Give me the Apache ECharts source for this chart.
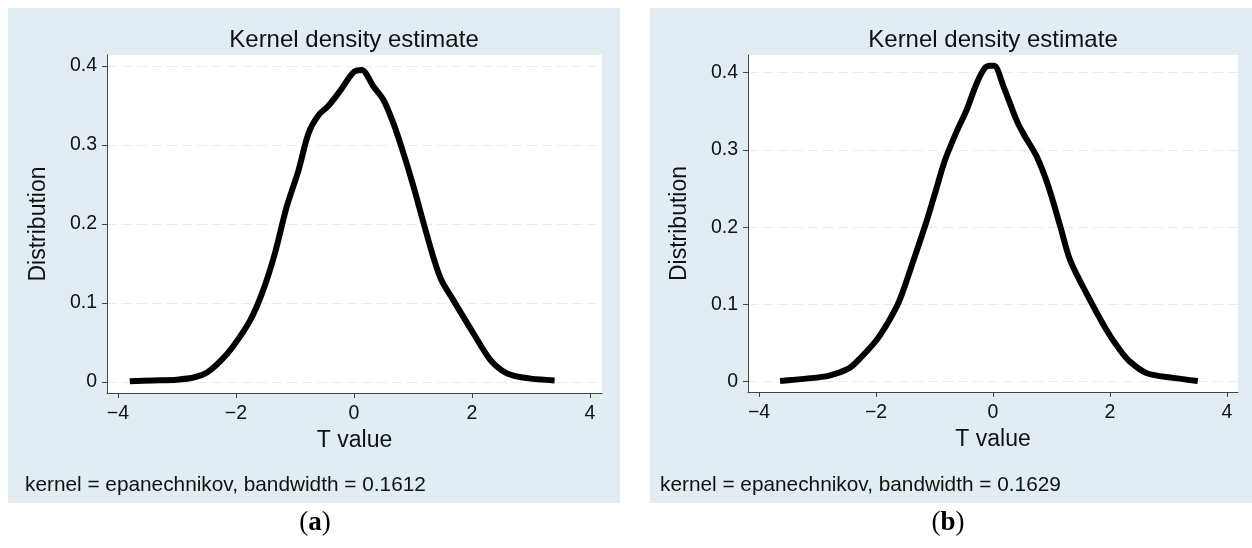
<!DOCTYPE html>
<html>
<head>
<meta charset="utf-8">
<title>Kernel density estimate</title>
<script src="https://cdn.jsdelivr.net/npm/echarts@6.0.0/dist/echarts.min.js"></script>
<style>
  html, body { margin: 0; padding: 0; background: #fff; }
  #chart { width: 1252px; height: 548px; }
</style>
</head>
<body>
<div id="chart"></div>
<script>
// panel (a): T value / estimated density
var tA = [-3.8, -3.4, -3.0, -2.7, -2.49, -2.27, -2.05, -1.76, -1.54, -1.34, -1.14, -0.94, -0.77, -0.6, -0.44, -0.24, -0.01, 0.13, 0.33, 0.5, 0.67, 0.84, 1.01, 1.18, 1.34, 1.48, 1.68, 2.02, 2.31, 2.5, 2.7, 3.03, 3.4];
var densA = [0.001, 0.002, 0.003, 0.006, 0.012, 0.026, 0.045, 0.078, 0.116, 0.163, 0.222, 0.268, 0.315, 0.338, 0.349, 0.368, 0.392, 0.395, 0.374, 0.357, 0.327, 0.289, 0.247, 0.201, 0.159, 0.129, 0.104, 0.062, 0.028, 0.015, 0.008, 0.004, 0.002];

// panel (b)
var tB = [-3.64, -3.2, -2.8, -2.45, -2.25, -2.0, -1.8, -1.6, -1.36, -1.13, -0.96, -0.82, -0.62, -0.45, -0.28, -0.14, -0.05, 0.02, 0.18, 0.4, 0.52, 0.75, 0.95, 1.15, 1.32, 1.6, 1.94, 2.17, 2.34, 2.63, 3.08, 3.5];
var densB = [0.001, 0.004, 0.008, 0.018, 0.032, 0.053, 0.076, 0.105, 0.157, 0.209, 0.252, 0.287, 0.324, 0.352, 0.386, 0.406, 0.409, 0.409, 0.382, 0.339, 0.321, 0.291, 0.252, 0.201, 0.157, 0.114, 0.067, 0.041, 0.026, 0.011, 0.005, 0.001];

var xTicks = [-4, -2, 0, 2, 4];
var yTicks = [0, 0.1, 0.2, 0.3, 0.4];
var bandwidths = ['0.1612', '0.1629'];
var letters = ['a', 'b'];

var font = '"Liberation Sans", Arial, sans-serif';
var bgColor = '#e1edf2';

function pairs(xs, ys) {
    return xs.map(function (x, i) { return [x, ys[i]]; });
}

function makeX(idx, min, max) {
    return {
        type: 'value', gridIndex: idx, min: min, max: max,
        name: 'T value', nameLocation: 'middle', nameGap: 33,
        nameTextStyle: { fontFamily: font, fontSize: 23, color: '#111' },
        axisLine: { onZero: false, lineStyle: { color: '#444', width: 1 } },
        axisTick: { customValues: xTicks, length: 5, lineStyle: { color: '#444' } },
        axisLabel: {
            customValues: xTicks, margin: 11, fontFamily: font, fontSize: 19.5, color: '#111',
            formatter: function (v) { return String(v).replace('-', '\u2212'); }
        },
        splitLine: { show: false }
    };
}

function makeY(idx, min, max) {
    return {
        type: 'value', gridIndex: idx, min: min, max: max,
        name: 'Distribution', nameLocation: 'middle', nameGap: 57,
        nameTextStyle: { fontFamily: font, fontSize: 23, color: '#111' },
        axisLine: { show: true, onZero: false, lineStyle: { color: '#444', width: 1 } },
        axisTick: { show: true, customValues: yTicks, length: 5, lineStyle: { color: '#444' } },
        axisLabel: { customValues: yTicks, margin: 10, fontFamily: font, fontSize: 19.5, color: '#111' },
        splitLine: { show: true, lineStyle: { color: '#ebebeb', width: 1, type: [10, 5] } }
    };
}

function makeLine(idx, data) {
    return {
        type: 'line', xAxisIndex: idx, yAxisIndex: idx, data: data,
        showSymbol: false, smooth: 0.3, silent: true,
        lineStyle: { color: '#000', width: 6 }
    };
}

var chart = echarts.init(document.getElementById('chart'));

var option = {
    animation: false,
    backgroundColor: '#fff',
    grid: [
        { left: 107, top: 55, width: 495, height: 338, show: true, backgroundColor: '#fff', borderWidth: 0 },
        { left: 748, top: 55, width: 490, height: 337, show: true, backgroundColor: '#fff', borderWidth: 0 }
    ],
    xAxis: [makeX(0, -4.186, 4.203), makeX(1, -4.188, 4.188)],
    yAxis: [makeY(0, -0.0139, 0.4139), makeY(1, -0.0133, 0.4229)],
    series: [makeLine(0, pairs(tA, densA)), makeLine(1, pairs(tB, densB))],
    graphic: [
        { type: 'rect', z: -10, shape: { x: 8, y: 8, width: 612, height: 495 }, style: { fill: bgColor } },
        { type: 'rect', z: -10, shape: { x: 650, y: 8, width: 602, height: 495 }, style: { fill: bgColor } },
        { type: 'text', x: 354, y: 40, style: { text: 'Kernel density estimate', font: '24px ' + font, fill: '#111', align: 'center', verticalAlign: 'middle' } },
        { type: 'text', x: 993, y: 40, style: { text: 'Kernel density estimate', font: '24px ' + font, fill: '#111', align: 'center', verticalAlign: 'middle' } },
        { type: 'text', x: 25, y: 485, style: { text: 'kernel = epanechnikov, bandwidth = ' + bandwidths[0], font: '20.8px ' + font, fill: '#111', align: 'left', verticalAlign: 'middle' } },
        { type: 'text', x: 660, y: 485, style: { text: 'kernel = epanechnikov, bandwidth = ' + bandwidths[1], font: '20.8px ' + font, fill: '#111', align: 'left', verticalAlign: 'middle' } },
        { type: 'text', x: 315, y: 523, style: { text: '({b|' + letters[0] + '})', font: '27px "Liberation Serif", serif', fill: '#000', align: 'center', verticalAlign: 'middle', rich: { b: { fontWeight: 'bold', fontSize: 27, fontFamily: '"Liberation Serif", serif' } } } },
        { type: 'text', x: 948, y: 523, style: { text: '({b|' + letters[1] + '})', font: '27px "Liberation Serif", serif', fill: '#000', align: 'center', verticalAlign: 'middle', rich: { b: { fontWeight: 'bold', fontSize: 27, fontFamily: '"Liberation Serif", serif' } } } }
    ]
};

chart.setOption(option);
</script>
</body>
</html>
